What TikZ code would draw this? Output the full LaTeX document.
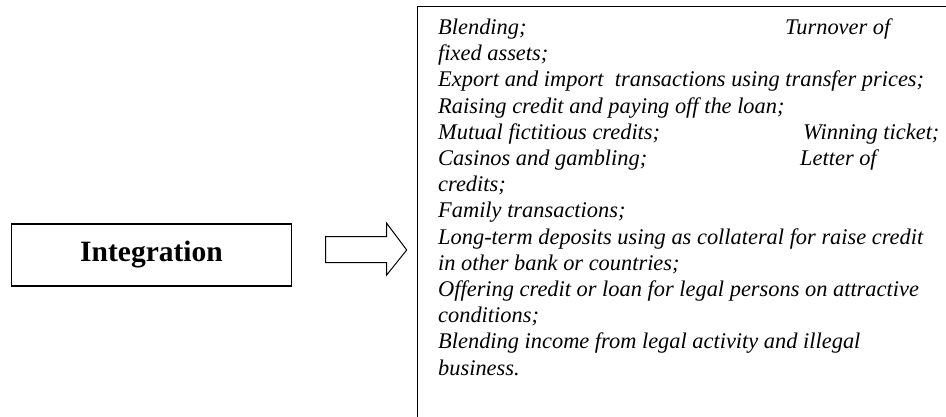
\documentclass[tikz,border=0pt]{standalone}
\usepackage{fontspec}
\setmainfont{Liberation Serif}
\usetikzlibrary{positioning}
\tikzset{
  stagebox/.style={draw, line width=1.6pt, inner sep=0pt, minimum width=280pt, minimum height=62pt, font=\fontsize{29.5}{34}\selectfont\bfseries},
  listtext/.style={inner sep=0pt, align=left, font=\fontsize{22.4}{26.2}\selectfont\itshape}
}
\begin{document}
\begin{tikzpicture}[x=1pt,y=-1pt]
  \useasboundingbox (0,0) rectangle (946,417);
  \clip (0,0) rectangle (946,417);
  \node[stagebox] (integ) at (151.5,255) {Integration};
  % box of methods, cut at the page edge
  \draw[line width=1.6pt] (417.5,6.5) rectangle (960,430);
  \node[listtext, anchor=base west] (methods) at (438,375) {%
    \makebox[347pt][l]{Blending;}Turnover of\\
    fixed assets;\\
    Export and import~ transactions using transfer prices;\\
    Raising credit and paying off the loan;\\
    \makebox[365pt][l]{Mutual fictitious credits;}Winning ticket;\\
    \makebox[362pt][l]{Casinos and gambling;}Letter of\\
    credits;\\
    Family transactions;\\
    Long-term deposits using as collateral for raise credit\\
    in other bank or countries;\\
    Offering credit or loan for legal persons on attractive\\
    conditions;\\
    Blending income from legal activity and illegal\\
    business.};
  % block arrow
  \draw[line width=1pt] (325.7,236.7) -- (386.7,236.7) -- (386.7,223.3) -- (406.7,250)
    -- (386.7,275) -- (386.7,262.7) -- (325.7,262.7) -- cycle;
\end{tikzpicture}
\end{document}
